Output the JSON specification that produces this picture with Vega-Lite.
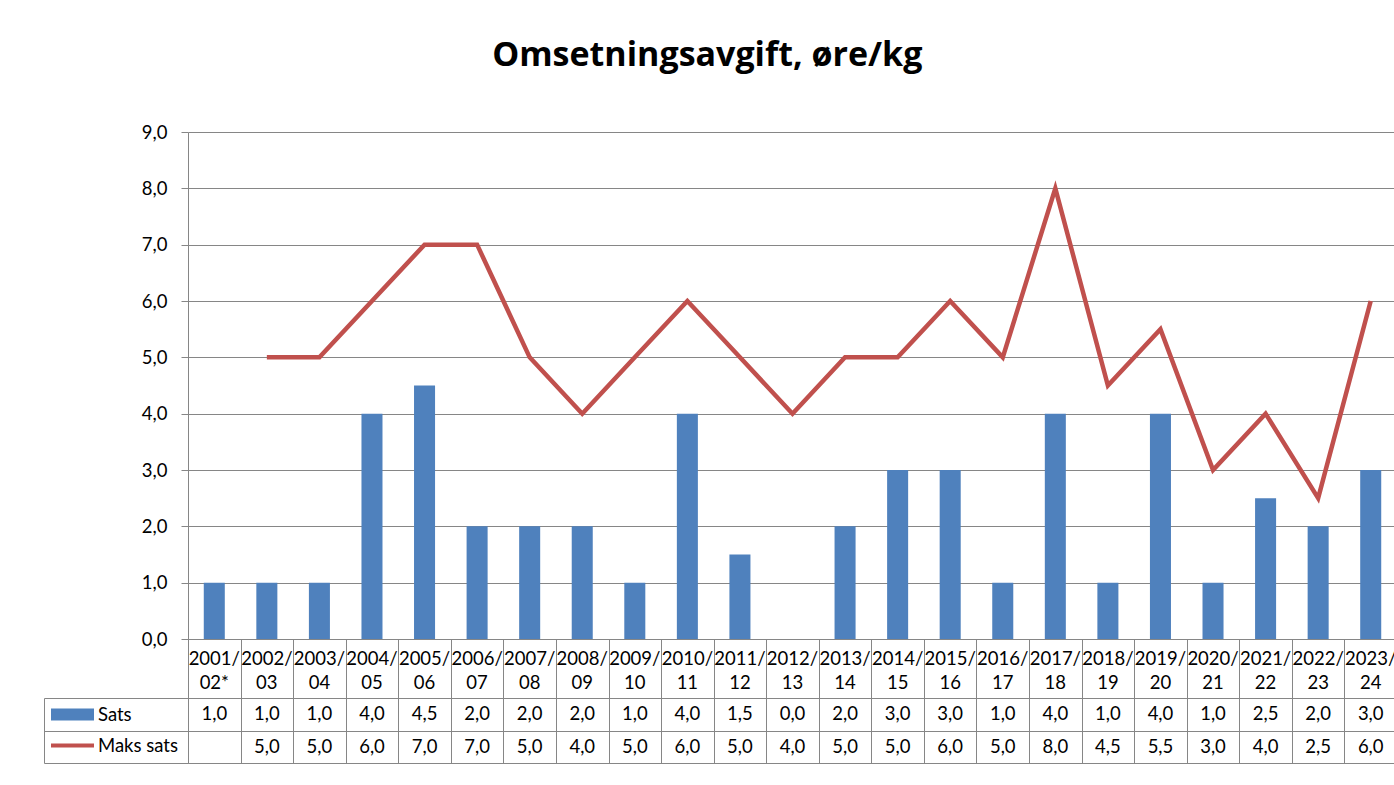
{
  "$schema": "https://vega.github.io/schema/vega-lite/v6.json",
  "padding": {"left": 43, "top": 39, "right": 0, "bottom": 0},
  "background": "white",
  "config": {
    "locale": {"number": {"decimal": ",", "thousands": " ", "grouping": [3], "currency": ["", " kr"]}},
    "font": "Lato",
    "view": {"stroke": null}
  },
  "title": {"text": "Omsetningsavgift, øre/kg", "font": "Open Sans", "fontSize": 34, "fontWeight": "bold", "color": "#000000", "anchor": "middle", "offset": 50, "dx": -13},
  "datasets": {
    "avgift": [
      {"periode": "2001/\n02*", "Sats": 1.0, "Maks sats": null},
      {"periode": "2002/\n03", "Sats": 1.0, "Maks sats": 5.0},
      {"periode": "2003/\n04", "Sats": 1.0, "Maks sats": 5.0},
      {"periode": "2004/\n05", "Sats": 4.0, "Maks sats": 6.0},
      {"periode": "2005/\n06", "Sats": 4.5, "Maks sats": 7.0},
      {"periode": "2006/\n07", "Sats": 2.0, "Maks sats": 7.0},
      {"periode": "2007/\n08", "Sats": 2.0, "Maks sats": 5.0},
      {"periode": "2008/\n09", "Sats": 2.0, "Maks sats": 4.0},
      {"periode": "2009/\n10", "Sats": 1.0, "Maks sats": 5.0},
      {"periode": "2010/\n11", "Sats": 4.0, "Maks sats": 6.0},
      {"periode": "2011/\n12", "Sats": 1.5, "Maks sats": 5.0},
      {"periode": "2012/\n13", "Sats": 0.0, "Maks sats": 4.0},
      {"periode": "2013/\n14", "Sats": 2.0, "Maks sats": 5.0},
      {"periode": "2014/\n15", "Sats": 3.0, "Maks sats": 5.0},
      {"periode": "2015/\n16", "Sats": 3.0, "Maks sats": 6.0},
      {"periode": "2016/\n17", "Sats": 1.0, "Maks sats": 5.0},
      {"periode": "2017/\n18", "Sats": 4.0, "Maks sats": 8.0},
      {"periode": "2018/\n19", "Sats": 1.0, "Maks sats": 4.5},
      {"periode": "2019/\n20", "Sats": 4.0, "Maks sats": 5.5},
      {"periode": "2020/\n21", "Sats": 1.0, "Maks sats": 3.0},
      {"periode": "2021/\n22", "Sats": 2.5, "Maks sats": 4.0},
      {"periode": "2022/\n23", "Sats": 2.0, "Maks sats": 2.5},
      {"periode": "2023/\n24", "Sats": 3.0, "Maks sats": 6.0}
    ]
  },
  "data": {"name": "avgift"},
  "spacing": 0,
  "bounds": "flush",
  "resolve": {"scale": {"x": "independent", "y": "independent", "color": "independent", "shape": "independent"}},
  "vconcat": [
    {
      "width": 1209,
      "height": 507,
      "view": {"stroke": null},
      "encoding": {
        "x": {"field": "periode", "type": "nominal", "sort": null, "title": null, "scale": {"paddingInner": 0.6, "paddingOuter": 0.3}, "axis": null}
      },
      "layer": [
        {
          "mark": {"type": "bar", "color": "#4F81BD"},
          "encoding": {
            "y": {
              "field": "Sats", "type": "quantitative", "title": null,
              "scale": {"domain": [0, 9], "nice": false},
              "axis": {"values": [0, 1, 2, 3, 4, 5, 6, 7, 8, 9], "format": ".1f", "grid": true, "gridColor": "#868686", "gridOpacity": 1, "gridWidth": 1, "domain": true, "domainColor": "#868686", "domainWidth": 1, "ticks": true, "tickSize": 7, "tickColor": "#868686", "tickWidth": 1, "labelPadding": 14, "labelFont": "Lato", "labelFontSize": 18.5, "labelColor": "#000000"}
            }
          }
        },
        {
          "mark": {"type": "line", "color": "#C0504D", "strokeWidth": 4.5, "strokeJoin": "miter"},
          "encoding": {
            "y": {"field": "Maks sats", "type": "quantitative", "title": null}
          }
        }
      ]
    },
    {
      "width": 1209,
      "height": 59,
      "view": {"stroke": "#868686", "strokeWidth": 1},
      "mark": {"type": "text", "lineBreak": "\n", "lineHeight": 24, "font": "Lato", "fontSize": 18.5, "color": "#000000", "baseline": "middle", "dy": -10},
      "encoding": {
        "x": {"field": "periode", "type": "nominal", "sort": null, "title": null, "scale": {"paddingInner": 0, "paddingOuter": 0}, "axis": {"orient": "bottom", "labels": false, "ticks": false, "domain": false, "grid": true, "tickBand": "extent", "gridColor": "#868686", "gridOpacity": 1, "gridWidth": 1}},
        "text": {"field": "periode", "type": "nominal"}
      }
    },
    {
      "width": 1209,
      "height": 65,
      "view": {"stroke": "#868686", "strokeWidth": 1},
      "transform": [{"fold": ["Sats", "Maks sats"], "as": ["rad", "verdi"]}],
      "layer": [
        {
          "transform": [{"filter": "datum.verdi != null"}],
          "mark": {"type": "text", "font": "Lato", "fontSize": 18.5, "color": "#000000", "baseline": "middle"},
          "encoding": {
            "x": {"field": "periode", "type": "nominal", "sort": null, "title": null, "scale": {"paddingInner": 0, "paddingOuter": 0}, "axis": {"orient": "bottom", "labels": false, "ticks": false, "domain": false, "grid": true, "tickBand": "extent", "gridColor": "#868686", "gridOpacity": 1, "gridWidth": 1}},
            "y": {"field": "rad", "type": "nominal", "title": null, "scale": {"domain": ["Sats", "Maks sats"], "paddingInner": 0, "paddingOuter": 0}, "axis": {"orient": "left", "labels": false, "ticks": true, "tickBand": "extent", "tickSize": 144, "tickColor": "#868686", "tickWidth": 1, "domain": false, "grid": true, "gridColor": "#868686", "gridOpacity": 1, "gridWidth": 1}},
            "text": {"field": "verdi", "type": "quantitative", "format": ".1f"}
          }
        },
        {
          "transform": [{"filter": "false"}],
          "mark": {"type": "point", "filled": true},
          "encoding": {
            "y": {"field": "rad", "type": "nominal", "title": null, "axis": {"orient": "left", "offset": 144, "labels": false, "ticks": false, "grid": false, "domain": true, "domainColor": "#868686", "domainWidth": 1}},
            "color": {"field": "rad", "type": "nominal", "scale": {"domain": ["Sats", "Maks sats"], "range": ["#4F81BD", "#C0504D"]}, "legend": {"orient": "none", "legendX": -137, "legendY": -5, "title": null, "padding": 0, "rowPadding": -10.5, "labelFont": "Lato", "labelFontSize": 18.5, "labelColor": "#000000", "labelOffset": 4, "symbolSize": 1849, "symbolStrokeWidth": 0, "symbolOpacity": 1, "direction": "vertical"}},
            "shape": {"field": "rad", "type": "nominal", "scale": {"domain": ["Sats", "Maks sats"], "range": ["M-1,-0.28L1,-0.28L1,0.28L-1,0.28Z", "M-1,-0.09L1,-0.09L1,0.09L-1,0.09Z"]}, "legend": {"orient": "none", "legendX": -137, "legendY": -5, "title": null, "padding": 0, "rowPadding": -10.5, "labelFont": "Lato", "labelFontSize": 18.5, "labelColor": "#000000", "labelOffset": 4, "symbolSize": 1849, "symbolStrokeWidth": 0, "symbolOpacity": 1, "direction": "vertical"}}
          }
        }
      ],
      "resolve": {"axis": {"y": "independent"}}
    }
  ]
}
